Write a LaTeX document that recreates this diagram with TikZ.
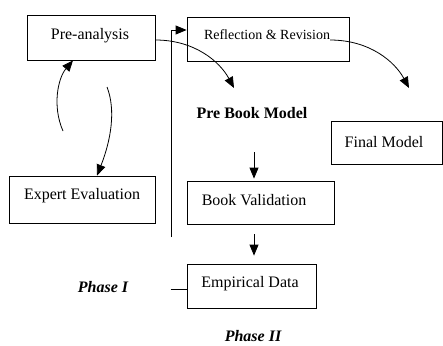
\documentclass[tikz,border=0pt]{standalone}
\usepackage{fontspec}
\setmainfont{Liberation Serif}
\usetikzlibrary{arrows.meta}
\begin{document}
\begin{tikzpicture}[x=1pt,y=-1pt,
  line width=0.8pt,
  box/.style={draw, line width=0.8pt, inner sep=0pt},
  lbl/.style={inner sep=0pt, font=\fontsize{16}{19}\selectfont},
  tip/.style={-{Triangle[length=11pt,width=9pt]}},
]
\useasboundingbox (0,0) rectangle (443,345);

% boxes (drawn from corner to corner)
\node[box, minimum width=128pt, minimum height=45pt] (prebox) at (91,37.5) {};
\node[box, minimum width=162pt, minimum height=44pt] (reflbox) at (268,39) {};
\node[box, minimum width=146pt, minimum height=47pt] (expbox) at (82,199.5) {};
\node[box, minimum width=111pt, minimum height=43pt] (finbox) at (386.5,142.5) {};
\node[box, minimum width=147pt, minimum height=43pt] (valbox) at (260.5,202.5) {};
\node[box, minimum width=129pt, minimum height=44pt] (empbox) at (251.5,286) {};

% texts
\node[lbl] (pre) at (90,36) {Pre-analysis};
\node[lbl, font=\fontsize{14}{17}\selectfont] (refl) at (267,35) {Reflection \& Revision};
\node[lbl] (exp) at (82,196) {Expert Evaluation};
\node[lbl] (fin) at (384,142) {Final Model};
\node[lbl] (val) at (254,200) {Book Validation};
\node[lbl] (emp) at (250,284) {Empirical Data};
\node[lbl, font=\fontsize{16}{19}\selectfont\bfseries] (pbm) at (252,113) {Pre Book Model};
\node[lbl, font=\fontsize{16}{19}\selectfont\bfseries\itshape] (ph1) at (103,287) {Phase I};
\node[lbl, font=\fontsize{16}{19}\selectfont\bfseries\itshape] (ph2) at (253,336) {Phase II};

% free ends of connectors
\coordinate (fbk) at (171,237);
\coordinate (pbmtop) at (234,88);
\coordinate (fintop) at (409,88);
\coordinate (reflout) at (330,40);
\coordinate (a1) at (63,131);
\coordinate (a2) at (107,87);
\coordinate (d1) at (254,152);
\coordinate (d2) at (254,234);

% connectors
\draw[tip] ([yshift=-2.5pt]prebox.east) .. controls (195,40) and (220,62) .. (pbmtop);
\draw[tip] (reflout) .. controls (370,40) and (395,62) .. (fintop);
\draw[tip] (a1) .. controls (52,106) and (58,78) .. ([xshift=-18pt]prebox.south);
\draw[tip] (a2) .. controls (116,110) and (111,140) .. ([xshift=15pt]expbox.north);
\draw[tip] (fbk) |- ([yshift=9pt]reflbox.west);
\draw[tip] (d1) -- ([yshift=2pt]d1 |- valbox.north);
\draw[tip] (d2) -- ([yshift=8pt]d2 |- empbox.north);
\draw ([xshift=-16pt,yshift=-3pt]empbox.west) -- ([yshift=-3pt]empbox.west);
\end{tikzpicture}
\end{document}
